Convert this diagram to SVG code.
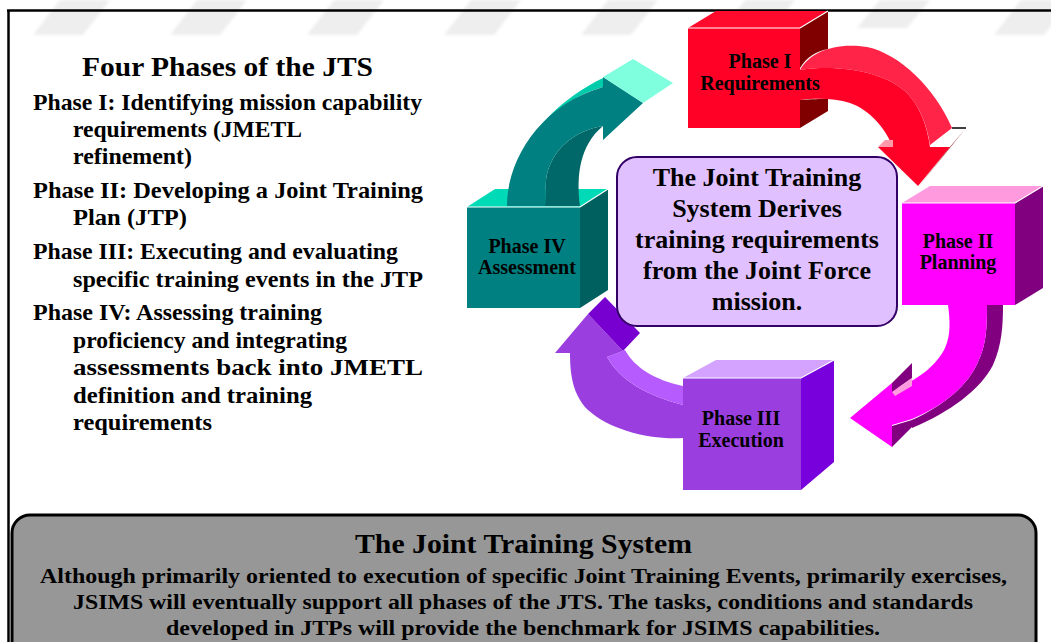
<svg xmlns="http://www.w3.org/2000/svg" width="1051" height="642" viewBox="0 0 1051 642">
  <style>
    .serif { font-family: "Liberation Serif", "Times New Roman", serif; font-weight: bold; fill: #000; }
    .lead { font-size: 27px; }
    .item { font-size: 23px; }
    .cube-label { font-size: 20px; text-anchor: middle; }
    .center-label { font-size: 26px; text-anchor: middle; }
    .footer-title { font-size: 28px; text-anchor: middle; }
    .footer-text { font-size: 20px; text-anchor: middle; }
    .edge { fill: none; stroke: #fff; stroke-width: 1.2; }
  </style>
  <defs>
    <filter id="soft" x="-20%" y="-50%" width="140%" height="200%">
      <feGaussianBlur stdDeviation="1.8"/>
    </filter>
  </defs>

  <rect width="1051" height="642" fill="#fff"/>

  <!-- faint slanted band pattern along the top edge -->
  <g id="band-pattern" fill="#eeeeee" filter="url(#soft)">
    <polygon points="33,35 83,35 110,0 60,0"/>
    <polygon points="170,35 220,35 247,0 197,0"/>
    <polygon points="307,35 357,35 384,0 334,0"/>
    <polygon points="444,35 494,35 521,0 471,0"/>
    <polygon points="581,35 631,35 658,0 608,0"/>
    <polygon points="718,35 768,35 795,0 745,0"/>
    <polygon points="857,28 907,28 930,0 880,0"/>
    <polygon points="994,35 1044,35 1071,0 1021,0"/>
  </g>

  <!-- page frame -->
  <g id="frame" stroke="#000" stroke-width="2.5" fill="none">
    <line x1="7" y1="10.5" x2="1051" y2="10.5"/>
    <line x1="8.5" y1="10" x2="8.5" y2="642"/>
  </g>

  <!-- list of the four phases -->
  <g id="phase-list" class="serif">
    <text class="lead" x="82" y="76" textLength="291" lengthAdjust="spacingAndGlyphs">Four Phases of the JTS</text>
    <text class="item" x="33" y="110" textLength="389" lengthAdjust="spacingAndGlyphs">Phase I: Identifying mission capability</text>
    <text class="item" x="73" y="137" textLength="229" lengthAdjust="spacingAndGlyphs">requirements (JMETL</text>
    <text class="item" x="73" y="164" textLength="119" lengthAdjust="spacingAndGlyphs">refinement)</text>
    <text class="item" x="33" y="198" textLength="390" lengthAdjust="spacingAndGlyphs">Phase II: Developing a Joint Training</text>
    <text class="item" x="73" y="225" textLength="114" lengthAdjust="spacingAndGlyphs">Plan (JTP)</text>
    <text class="item" x="33" y="259" textLength="365" lengthAdjust="spacingAndGlyphs">Phase III: Executing and evaluating</text>
    <text class="item" x="73" y="287" textLength="350" lengthAdjust="spacingAndGlyphs">specific training events in the JTP</text>
    <text class="item" x="33" y="320" textLength="289" lengthAdjust="spacingAndGlyphs">Phase IV: Assessing training</text>
    <text class="item" x="73" y="348" textLength="274" lengthAdjust="spacingAndGlyphs">proficiency and integrating</text>
    <text class="item" x="73" y="375" textLength="350" lengthAdjust="spacingAndGlyphs">assessments back into JMETL</text>
    <text class="item" x="73" y="403" textLength="239" lengthAdjust="spacingAndGlyphs">definition and training</text>
    <text class="item" x="73" y="430" textLength="139" lengthAdjust="spacingAndGlyphs">requirements</text>
  </g>

  <!-- Phase IV cube -->
  <g id="phase-iv">
    <polygon points="467,207 495,189 608,189 580,207" fill="#00dab6"/>
    <polygon points="580,207 608,189 608,290 580,308" fill="#006060"/>
    <rect x="467" y="207" width="113" height="101" fill="#008080"/>
    <polyline class="edge" points="467,207 580,207 608,189"/>
    <text class="serif cube-label" x="527" y="253">Phase IV</text>
    <text class="serif cube-label" x="527" y="274">Assessment</text>
  </g>

  <!-- Phase II cube -->
  <g id="phase-ii">
    <polygon points="902,203 930,186 1043,186 1015,203" fill="#ff9ade"/>
    <polygon points="1015,203 1043,186 1043,288 1015,305" fill="#800080"/>
    <rect x="902" y="203" width="113" height="102" fill="#ff00ff"/>
    <polyline class="edge" points="902,203 1015,203 1043,186"/>
    <text class="serif cube-label" x="958" y="248">Phase II</text>
    <text class="serif cube-label" x="958" y="269">Planning</text>
  </g>

  <!-- Phase III cube -->
  <g id="phase-iii">
    <polygon points="683,378 716,360 834,360 801,378" fill="#d3a3ff"/>
    <polygon points="801,378 834,360 834,462 801,490" fill="#7700dd"/>
    <rect x="683" y="378" width="118" height="112" fill="#9b3ee0"/>
    <polyline class="edge" points="683,378 801,378 834,360"/>
    <text class="serif cube-label" x="741" y="425">Phase III</text>
    <text class="serif cube-label" x="741" y="447">Execution</text>
  </g>

  <!-- curved 3D arrows between the phases -->
  <g id="connectors">
    <!-- Phase I to Phase II -->
    <g id="arrow-i-ii">
      <path d="M800,70 C810,52 835,42 867,47 C900,54 935,88 952,128 L930,145 C927,125 920,107 907,93 C885,72 840,64 800,70 Z" fill="#ff2448"/>
      <path d="M800,70 C840,64 885,72 907,93 C920,107 927,125 930,147 L893,147 C885,128 870,110 850,103 C835,98 815,98 800,100 Z" fill="#ff0026"/>
      <polygon points="878,147 950,147 918,186" fill="#ff0026"/>
      <polygon points="878,147 885,140 893,140 893,147" fill="#ff9aab"/>
      <polygon points="950,147 966,128 919,186" fill="#800000"/>
      <line x1="952" y1="128" x2="966" y2="128" stroke="#000" stroke-width="1.5"/>
    </g>
    <!-- Phase II to Phase III -->
    <g id="arrow-ii-iii">
      <path d="M987,305 C987,330 986,345 978,362 C968,385 945,405 912,420 L912,428 C950,412 980,390 993,365 C1002,345 1003,325 1003,305 Z" fill="#800080"/>
      <path d="M948,305 C950,320 951,335 945,348 C937,365 918,380 893,390 L892,383 L850,418 L892,447 L892,425 L912,419 C945,405 968,385 978,362 C986,345 987,330 987,305 Z" fill="#ff00ff"/>
      <polygon points="892,383 912,363 912,378 892,392" fill="#800080"/>
      <polygon points="892,392 912,378 912,386 895,396" fill="#ff9ade"/>
      <polygon points="892,426 912,420 912,427 892,447" fill="#800080"/>
    </g>
    <!-- Phase III to Phase IV -->
    <g id="arrow-iii-iv">
      <path d="M683,438 C650,440 610,430 588,410 C573,395 570,375 570,353 L555,353 L588,314 L623,351 L607,357 C620,380 645,395 683,405 Z" fill="#9b3ee0"/>
      <path d="M607,357 C620,380 645,395 683,405 L683,386 C655,380 635,368 625,350 Z" fill="#b65cff"/>
      <polygon points="588,314 605,297 640,333 623,351" fill="#7700d0"/>
    </g>
    <!-- Phase IV to Phase I -->
    <g id="arrow-iv-i">
      <path d="M545,206 L580,206 C576,175 580,145 603,126 C575,130 550,150 546,180 Z" fill="#006868"/>
      <path d="M520,160 C533,128 562,98 603,78 L603,87 C565,98 538,122 520,160 Z" fill="#00cbab"/>
      <path d="M507,206 C507,160 540,105 603,87 L603,77 L643,103 L603,140 L603,126 C575,130 550,150 546,180 L545,206 Z" fill="#008080"/>
      <polygon points="603,77 633,59 673,83 643,103" fill="#80ffde"/>
    </g>
  </g>

  <!-- Phase I cube (side face shown where the arrow leaves it) -->
  <g id="phase-i">
    <polygon points="688,28 716,11 828,11 800,28" fill="#ff0a2c"/>
    <path d="M800,28 L828,11 L828,49 C816,51 806,58 800,68 Z" fill="#800000"/>
    <path d="M800,100 C812,99 820,99 828,99 L828,111 L800,128 Z" fill="#800000"/>
    <rect x="688" y="28" width="112" height="100" fill="#ff0026"/>
    <polyline class="edge" points="688,28 800,28 828,11"/>
    <text class="serif cube-label" x="760" y="68">Phase I</text>
    <text class="serif cube-label" x="760" y="90">Requirements</text>
  </g>

  <!-- central statement -->
  <g id="jts-core">
    <rect x="617" y="157" width="280" height="169" rx="20" ry="20" fill="#e1c0ff" stroke="#330066" stroke-width="2"/>
    <text class="serif center-label" x="757" y="186">The Joint Training</text>
    <text class="serif center-label" x="757" y="217">System Derives</text>
    <text class="serif center-label" x="757" y="248">training requirements</text>
    <text class="serif center-label" x="757" y="279">from the Joint Force</text>
    <text class="serif center-label" x="757" y="310">mission.</text>
  </g>

  <!-- summary panel -->
  <g id="summary">
    <rect x="12" y="515" width="1024" height="150" rx="18" ry="18" fill="#979797" stroke="#000" stroke-width="3"/>
    <text class="serif footer-title" x="523.5" y="553" textLength="337" lengthAdjust="spacingAndGlyphs">The Joint Training System</text>
    <text class="serif footer-text" x="523.5" y="583" textLength="967" lengthAdjust="spacingAndGlyphs">Although primarily oriented to execution of specific Joint Training Events, primarily exercises,</text>
    <text class="serif footer-text" x="523" y="609" textLength="900" lengthAdjust="spacingAndGlyphs">JSIMS will eventually support all phases of the JTS. The tasks, conditions and standards</text>
    <text class="serif footer-text" x="523" y="635" textLength="714" lengthAdjust="spacingAndGlyphs">developed in JTPs will provide the benchmark for JSIMS capabilities.</text>
  </g>
</svg>
